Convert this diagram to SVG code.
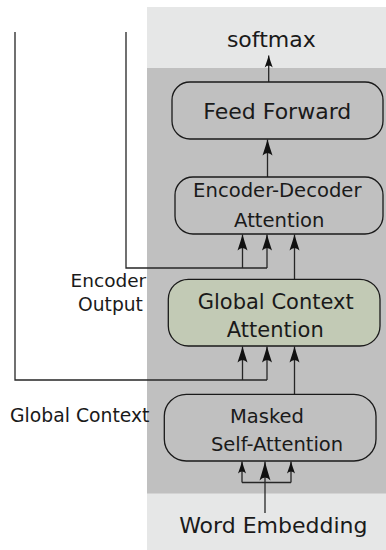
<svg xmlns="http://www.w3.org/2000/svg" width="386" height="550" viewBox="0 0 386 550">
<defs>
<style>
.t{font-family:"DejaVu Sans","Verdana",sans-serif;fill:#1a1a1a}
.c{text-anchor:middle}
.box{fill:none;stroke:#1a1a1a;stroke-width:1.3}
.ln{fill:none;stroke:#262626;stroke-width:1.3}
</style>
<marker id="ab" markerUnits="userSpaceOnUse" orient="auto" refX="0" refY="0" markerWidth="30" markerHeight="30" overflow="visible">
<path d="M0,0 Q-8,-2 -19,-5.5 Q-13,0 -19,5.5 Q-8,2 0,0 Z" fill="#111"/>
</marker>
<marker id="am" markerUnits="userSpaceOnUse" orient="auto" refX="0" refY="0" markerWidth="30" markerHeight="30" overflow="visible">
<path d="M0,0 Q-7,-2 -16,-5 Q-11,0 -16,5 Q-7,2 0,0 Z" fill="#111"/>
</marker>
<marker id="as" markerUnits="userSpaceOnUse" orient="auto" refX="0" refY="0" markerWidth="30" markerHeight="30" overflow="visible">
<path d="M0,0 Q-5,-1.5 -12,-4 Q-8,0 -12,4 Q-5,1.5 0,0 Z" fill="#111"/>
</marker>
</defs>
<g id="background">
<rect x="147" y="7" width="239" height="543" fill="#e6e7e7"/>
<rect x="147" y="68" width="239" height="425.5" fill="#c0c0c0"/>
</g>
<g id="connectors">
<path class="ln" d="M126,32 V268 H267"/>
<path class="ln" d="M15,32 V380 H267"/>
<path class="ln" d="M242.5,268 V234.5" marker-end="url(#am)"/>
<path class="ln" d="M267,268 V234.5" marker-end="url(#am)"/>
<path class="ln" d="M294.5,279 V234.5" marker-end="url(#am)"/>
<path class="ln" d="M242.5,380 V346.5" marker-end="url(#am)"/>
<path class="ln" d="M267,380 V346.5" marker-end="url(#am)"/>
<path class="ln" d="M294.5,394 V346.5" marker-end="url(#am)"/>
<path class="ln" d="M242,482.5 H291"/>
<path class="ln" d="M242,482.5 V461.5" marker-end="url(#as)"/>
<path class="ln" d="M291,482.5 V461.5" marker-end="url(#as)"/>
<path class="ln" d="M265,513 V461.5" marker-end="url(#ab)"/>
<path class="ln" d="M267.5,177 V139.5" marker-end="url(#am)"/>
<path class="ln" d="M268.7,82 V55.5" marker-end="url(#as)"/>
</g>
<g id="softmax">
<text class="t c" x="271.3" y="46.7" font-size="22">softmax</text>
</g>
<g id="feed-forward">
<rect class="box" x="172" y="82" width="211" height="57" rx="18"/>
<text class="t c" x="277.3" y="119" font-size="22">Feed Forward</text>
</g>
<g id="encoder-decoder-attention">
<rect class="box" x="175" y="177" width="208" height="57" rx="18"/>
<text class="t c" x="277.3" y="197.3" font-size="19.6">Encoder-Decoder</text>
<text class="t c" x="279.3" y="227.3" font-size="19.6">Attention</text>
</g>
<g id="global-context-attention">
<rect x="168.3" y="279.3" width="211.7" height="66.7" rx="20" fill="#c2cab5" stroke="#1a1a1a" stroke-width="1.3"/>
<text class="t c" x="275.7" y="309.3" font-size="21">Global Context</text>
<text class="t c" x="275.3" y="336.7" font-size="21">Attention</text>
</g>
<g id="masked-self-attention">
<rect class="box" x="164.3" y="394.3" width="211.7" height="66.7" rx="22"/>
<text class="t c" x="267" y="422.7" font-size="19.5">Masked</text>
<text class="t c" x="277" y="450.7" font-size="19.5">Self-Attention</text>
</g>
<g id="word-embedding">
<text class="t c" x="273.3" y="533.3" font-size="22">Word Embedding</text>
</g>
<g id="encoder-output">
<text class="t" x="70.6" y="286.7" font-size="18.5">Encoder</text>
<text class="t" x="78" y="310.7" font-size="18.7">Output</text>
</g>
<g id="global-context">
<text class="t" x="10" y="421.7" font-size="18.8">Global Context</text>
</g>
</svg>
